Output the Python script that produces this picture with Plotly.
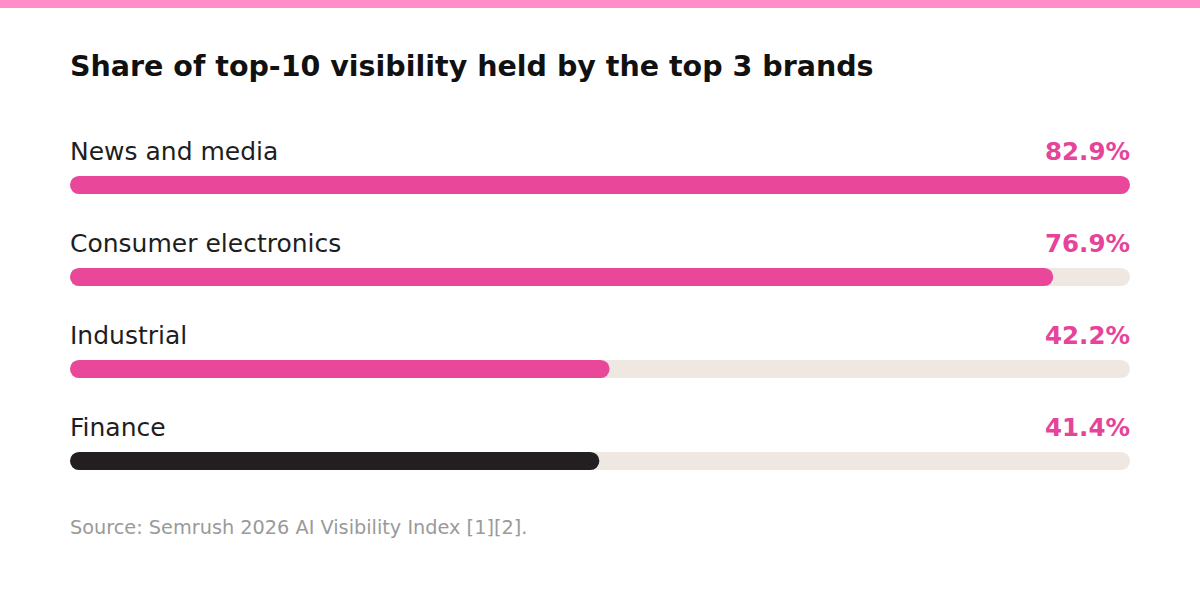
import plotly.graph_objects as go

# Dados do gráfico
categorias = ["News and media", "Consumer electronics", "Industrial", "Finance"]
valores = [82.9, 76.9, 42.2, 41.4]
rotulos = ["82.9%", "76.9%", "42.2%", "41.4%"]
cores = ["#E8479A", "#E8479A", "#E8479A", "#231F20"]

escala_max = max(valores)
linhas = list(range(len(categorias)))
fonte = "DejaVu Sans"

fig = go.Figure()

# Trilha de fundo
fig.add_trace(go.Bar(
    y=linhas, x=[escala_max] * len(linhas), base=[0] * len(linhas),
    orientation="h", marker=dict(color="#EFE8E2", line=dict(width=0)),
    width=0.196, hoverinfo="skip"
))

# Barras de valor
fig.add_trace(go.Bar(
    y=linhas, x=valores, base=[0] * len(linhas),
    orientation="h", marker=dict(color=cores, line=dict(width=0)),
    width=0.196, text=categorias, hoverinfo="text", textposition="none"
))

# Rótulos das categorias e valores
for i, (cat, rot) in enumerate(zip(categorias, rotulos)):
    fig.add_annotation(x=0, y=i - 0.36, xref="x", yref="y", text=cat,
                       showarrow=False, xanchor="left", yanchor="middle", xshift=-2,
                       font=dict(family=fonte, size=25, color="#1E1E1E"))
    fig.add_annotation(x=escala_max, y=i - 0.36, xref="x", yref="y",
                       text="<b>" + rot + "</b>", xshift=2,
                       showarrow=False, xanchor="right", yanchor="middle",
                       font=dict(family=fonte, size=24.5, color="#E6449A"))

# Título e fonte
fig.add_annotation(x=0, y=1 - 67 / 609, xref="paper", yref="paper",
                   text="<b>Share of top-10 visibility held by the top 3 brands</b>",
                   showarrow=False, xanchor="left", yanchor="middle", xshift=-2,
                   font=dict(family=fonte, size=28.5, color="#111111"))
fig.add_annotation(x=0, y=1 - 527 / 609, xref="paper", yref="paper",
                   text="Source: Semrush 2026 AI Visibility Index [1][2].",
                   showarrow=False, xanchor="left", yanchor="middle", xshift=-2,
                   font=dict(family=fonte, size=19.3, color="#9A9A9A"))

# Faixa rosa no topo
fig.add_shape(type="rect", xref="paper", yref="paper", x0=-70 / 1060, x1=1 + 70 / 1060,
              y0=1 - 8 / 609, y1=1, fillcolor="#FF8DC7", line=dict(width=0), layer="above")

fig.update_layout(
    width=1200, height=609,
    margin=dict(l=70, r=70, t=0, b=0),
    barmode="overlay",
    barcornerradius=9,
    showlegend=False,
    plot_bgcolor="white",
    paper_bgcolor="white",
    xaxis=dict(range=[0, escala_max], visible=False, fixedrange=True),
    yaxis=dict(range=[(609 - 185) / 92, -185 / 92], visible=False, fixedrange=True),
)

fig.write_html("out.html", config={"displayModeBar": False},
               post_script="document.body.style.margin='0';")
